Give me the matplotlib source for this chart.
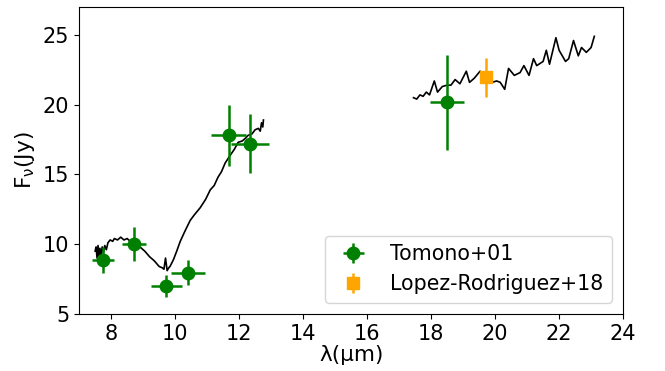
import matplotlib
matplotlib.use("Agg")
import matplotlib.pyplot as plt

plt.rcParams["mathtext.default"] = "regular"

# Tomono+01 photometry
tom_x = [7.75, 8.72, 9.72, 10.4, 11.68, 12.33, 18.5]
tom_y = [8.86, 10.0, 7.02, 7.95, 17.8, 17.2, 20.16]
tom_xerr = [0.34, 0.37, 0.48, 0.52, 0.55, 0.59, 0.54]
tom_yerr = [0.9, 1.2, 0.8, 0.9, 2.2, 2.1, 3.4]

# Lopez-Rodriguez+18
lr_x = [19.71]
lr_y = [21.95]
lr_yerr = [1.4]

# spectrum segment 1 (N band)
s1_x = [7.50, 7.53, 7.56, 7.59, 7.62, 7.65, 7.68, 7.72, 7.76, 7.80, 7.85, 7.90, 7.97,
        8.05, 8.10, 8.20, 8.30, 8.40, 8.50, 8.60, 8.75, 8.90, 9.05, 9.20, 9.35, 9.50,
        9.60, 9.65, 9.70, 9.75, 9.80, 9.84, 9.95, 10.05, 10.16, 10.30, 10.47, 10.60,
        10.78, 10.95, 11.10, 11.22, 11.34, 11.45, 11.56, 11.70, 11.85, 11.97, 12.10,
        12.20, 12.28, 12.40, 12.50, 12.60, 12.66, 12.70, 12.74, 12.76]
s1_y = [9.5, 9.8, 9.0, 9.9, 9.2, 9.7, 9.1, 9.8, 9.4, 9.9, 9.6, 10.1, 10.3,
        10.2, 10.4, 10.3, 10.5, 10.3, 10.4, 10.2, 10.0, 9.8, 9.5, 9.1, 8.8, 8.4,
        8.3, 8.2, 9.0, 8.1, 8.3, 8.4, 8.9, 9.5, 10.2, 10.9, 11.7, 12.1,
        12.6, 13.2, 13.9, 14.2, 14.8, 15.2, 15.8, 16.3, 16.8, 17.3, 17.4,
        17.6, 17.8, 17.9, 18.2, 18.3, 18.1, 18.7, 18.4, 18.9]

# spectrum segment 2 (Q band)
s2_x = [17.45, 17.55, 17.65, 17.75, 17.85, 17.95, 18.10, 18.20, 18.35, 18.50, 18.62,
        18.75, 18.90, 19.10, 19.20, 19.35, 19.53, 19.70, 19.90, 20.05, 20.16, 20.30,
        20.42, 20.60, 20.78, 20.90, 21.06, 21.20, 21.30, 21.50, 21.60, 21.70, 21.90,
        22.00, 22.20, 22.30, 22.45, 22.60, 22.70, 22.85, 23.00, 23.10]
s2_y = [20.5, 20.4, 20.7, 20.6, 20.9, 20.7, 21.7, 20.9, 21.3, 21.4, 21.4,
        21.8, 21.5, 22.4, 21.6, 21.9, 22.4, 22.0, 21.6, 21.7, 21.6, 21.1,
        22.6, 22.1, 22.3, 22.8, 22.1, 23.3, 22.8, 23.1, 23.9, 22.9, 24.8,
        23.9, 23.1, 23.3, 24.6, 23.5, 24.1, 23.75, 24.1, 24.9]

fig = plt.figure(figsize=(6.65, 3.71), dpi=100)
ax = fig.add_axes([0.119, 0.154, 0.818, 0.827])

ax.plot(s1_x, s1_y, color="black", lw=1.2)
ax.plot(s2_x, s2_y, color="black", lw=1.2)

ax.errorbar(tom_x, tom_y, xerr=tom_xerr, yerr=tom_yerr, fmt="o", color="green",
            ms=9, elinewidth=1.8, capsize=0, label="Tomono+01")
ax.errorbar(lr_x, lr_y, yerr=lr_yerr, fmt="s", color="orange",
            ms=8, elinewidth=1.8, capsize=0, label="Lopez-Rodriguez+18")

ax.set_xlim(7, 24)
ax.set_ylim(5, 27)
ax.set_xticks([8, 10, 12, 14, 16, 18, 20, 22, 24])
ax.set_yticks([5, 10, 15, 20, 25])
ax.tick_params(labelsize=15)
ax.set_xlabel("λ(μm)", fontsize=15.5, labelpad=1)
ax.set_ylabel(r"F$_{\nu}$(Jy)", fontsize=15.5)
ax.legend(loc="lower right", fontsize=14.8, borderaxespad=0.55)

fig.savefig("out.png", dpi=100)
